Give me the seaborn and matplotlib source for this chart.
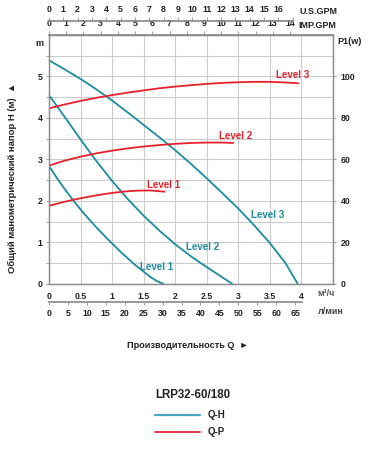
import numpy as np
import pandas as pd
import matplotlib
matplotlib.use("Agg")
import matplotlib.pyplot as plt
import seaborn as sns
from matplotlib.lines import Line2D

# ---------------- data ----------------
levels = ["Level 1", "Level 2", "Level 3"]

# Q-H curves (Q in m3/h, H in m)
qh1_q = [0, 0.125, 0.25, 0.375, 0.5, 0.625, 0.75, 0.875, 1.0, 1.125, 1.25, 1.375, 1.5, 1.6, 1.7, 1.76, 1.81]
qh1_h = [2.84, 2.55, 2.28, 2.03, 1.79, 1.57, 1.36, 1.16, 0.97, 0.78, 0.61, 0.44, 0.29, 0.17, 0.07, 0.03, 0.0]
qh2_q = [0, 0.25, 0.5, 0.75, 1.0, 1.25, 1.5, 1.75, 2.0, 2.25, 2.5, 2.7, 2.82, 2.9]
qh2_h = [4.55, 4.02, 3.48, 2.96, 2.48, 2.04, 1.64, 1.28, 0.95, 0.66, 0.40, 0.20, 0.08, 0.0]
qh3_q = [0, 0.25, 0.5, 0.75, 1.0, 1.25, 1.5, 1.75, 2.0, 2.25, 2.5, 2.75, 3.0, 3.25, 3.5, 3.75, 3.94]
qh3_h = [5.39, 5.17, 4.94, 4.69, 4.42, 4.13, 3.83, 3.53, 3.22, 2.89, 2.54, 2.18, 1.81, 1.41, 0.98, 0.49, 0.0]

# Q-P curves (Q in m3/h, P1 in W)
qp1_q = [0, 0.2, 0.4, 0.6, 0.8, 1.0, 1.2, 1.4, 1.6, 1.83]
qp1_p = [37.6, 39.2, 40.6, 41.8, 42.9, 43.8, 44.5, 44.9, 45.0, 44.4]
qp2_q = [0, 0.25, 0.5, 0.75, 1.0, 1.25, 1.5, 1.75, 2.0, 2.25, 2.5, 2.75, 2.92]
qp2_p = [57.0, 59.4, 61.3, 62.9, 64.2, 65.3, 66.2, 66.9, 67.5, 67.9, 68.1, 68.1, 67.9]
qp3_q = [0, 0.25, 0.5, 0.75, 1.0, 1.25, 1.5, 1.75, 2.0, 2.25, 2.5, 2.75, 3.0, 3.25, 3.5, 3.75, 3.95]
qp3_p = [84.6, 86.5, 88.2, 89.7, 91.0, 92.2, 93.3, 94.3, 95.1, 95.8, 96.4, 96.9, 97.2, 97.4, 97.4, 97.1, 96.7]

# axis ticks / labels
m3h_ticks = [0, 0.5, 1, 1.5, 2, 2.5, 3, 3.5, 4]
m3h_labels = ["0", "0.5", "1", "1.5", "2", "2.5", "3", "3.5", "4"]
lmin_ticks = list(range(0, 70, 5))
usgpm_ticks = list(range(0, 18))
usgpm_labels = [str(i) for i in range(0, 17)] + [""]
impgpm_ticks = list(range(0, 15))
h_ticks = [0, 1, 2, 3, 4, 5]
p_ticks = [0, 20, 40, 60, 80, 100]

title = "LRP32-60/180"
xlabel = "Производительность Q  \u25ba"
ylabel = "Общий манометрический напор H (м)  \u25b2"

# ---------------- style ----------------
sns.set_theme(style="white")
plt.rcParams["font.family"] = ["Liberation Sans", "DejaVu Sans"]
plt.rcParams["font.weight"] = "bold"

TEAL = "#1b8ca3"
TEAL_LEG = "#4aa7c4"
RED = "#e5222b"
GRID = "#cccccc"
SPINE = "#8c8c8c"
TXT = "#222222"
FS = 6.3

W, H = 367, 450
fig = plt.figure(figsize=(W / 100, H / 100), dpi=100)
L, R, T, B = 49, 333, 35, 283.7
ax = fig.add_axes([L / W, 1 - B / H, (R - L) / W, (B - T) / H])
ax2 = ax.twinx()

qh = pd.concat([
    pd.DataFrame({"Q": q, "H": h, "level": lv})
    for q, h, lv in zip([qh1_q, qh2_q, qh3_q], [qh1_h, qh2_h, qh3_h], levels)
])
qp = pd.concat([
    pd.DataFrame({"Q": q, "P": p, "level": lv})
    for q, p, lv in zip([qp1_q, qp2_q, qp3_q], [qp1_p, qp2_p, qp3_p], levels)
])

sns.lineplot(data=qh, x="Q", y="H", units="level", estimator=None, sort=False,
             color=TEAL, lw=1.3, ax=ax, legend=False)
sns.lineplot(data=qp, x="Q", y="P", units="level", estimator=None, sort=False,
             color=RED, lw=1.3, ax=ax2, legend=False)

ax.set_xlim(0, 4.5)
ax.set_ylim(0, 6)
ax2.set_ylim(0, 120)
ax.set_xlabel("")
ax.set_ylabel("")
ax2.set_ylabel("")

# grid
ax.set_xticks(m3h_ticks)
ax.set_xticklabels(m3h_labels)
ax.set_xticks([4.5], minor=True)
ax.set_yticks(h_ticks)
ax.set_yticks(np.arange(0.5, 6.01, 1.0), minor=True)
ax.grid(True, which="both", color=GRID, lw=0.8)
ax.set_axisbelow(True)
ax2.set_yticks(p_ticks)
ax2.grid(False)

for a in (ax, ax2):
    for s in a.spines.values():
        s.set_color(SPINE)
        s.set_linewidth(0.9)

ax.tick_params(axis="both", which="both", direction="out", length=2.5, width=0.6,
               color=SPINE, labelsize=FS, labelcolor=TXT, pad=2)
ax.tick_params(axis="x", pad=3.5)
ax.tick_params(axis="x", which="minor", length=0)
ax2.tick_params(axis="y", direction="out", length=2.5, width=0.6, color=SPINE,
                labelsize=FS, labelcolor=TXT, pad=3)
for lab in ax.get_xticklabels() + ax.get_yticklabels() + ax2.get_yticklabels():
    lab.set_fontweight("bold")

# top IMP.GPM axis (on the plot frame)
imp = ax.secondary_xaxis("top", functions=(lambda q: q * 3.666, lambda g: g / 3.666))
imp.set_xticks(impgpm_ticks)
imp.tick_params(direction="out", length=3, width=0.6, color=SPINE,
                labelsize=FS, labelcolor=TXT, pad=2)
imp.spines["top"].set_color(SPINE)

# top U.S.GPM axis
us_loc = (B - 20.7) / (B - T)
us = ax.secondary_xaxis(us_loc, functions=(lambda q: q * 4.403, lambda g: g / 4.403))
us.set_xticks(usgpm_ticks)
us.set_xticklabels(usgpm_labels)
us.tick_params(direction="out", length=3, width=0.6, color=SPINE,
               labelsize=FS, labelcolor=TXT, pad=2)
us.spines["top"].set_color(SPINE)
us.spines["top"].set_bounds(0, 17)

# bottom l/min axis
lm_loc = -(301.7 - B) / (B - T)
lm = ax.secondary_xaxis(lm_loc, functions=(lambda q: q * 16.667, lambda l: l / 16.667))
lm.set_xticks(lmin_ticks)
lm.tick_params(direction="out", length=2.5, width=0.6, color=SPINE,
               labelsize=FS, labelcolor=TXT, pad=3)
lm.spines["bottom"].set_color(SPINE)
lm.spines["bottom"].set_bounds(0, 66.7)

for a in (imp, us, lm):
    for lab in a.get_xticklabels():
        lab.set_fontweight("bold")

# level labels
lab_kw = dict(fontsize=7, fontweight="bold", ha="center", va="center")
ax.text(3.86, 5.03, "Level 3", color=RED, **lab_kw)
ax.text(2.96, 3.56, "Level 2", color=RED, **lab_kw)
ax.text(1.81, 2.37, "Level 1", color=RED, **lab_kw)
ax.text(3.47, 1.65, "Level 3", color=TEAL, **lab_kw)
ax.text(2.44, 0.89, "Level 2", color=TEAL, **lab_kw)
ax.text(1.70, 0.41, "Level 1", color=TEAL, **lab_kw)

# unit texts
def ft(px, py, s, **kw):
    fig.text(px / W, 1 - py / H, s, **kw)

unit_kw = dict(fontsize=6.5, fontweight="bold", color=TXT, va="center")
ft(300, 11, "U.S.GPM", ha="left", **unit_kw)
ft(298, 25, "IMP.GPM", ha="left", **unit_kw)
ft(337, 42, "P1(w)", ha="left", **unit_kw)
ft(39, 43, "m", ha="center", **unit_kw)
ft(317, 293, "м\u00b3/ч", ha="left", fontsize=6.5, fontweight="bold", color="#555555", va="center")
ft(318, 311, "л/мин", ha="left", fontsize=6.5, fontweight="bold", color="#444444", va="center")

ft(188, 345, xlabel, ha="center", va="center", fontsize=6.6, fontweight="bold", color=TXT)
ft(12, 178, ylabel, ha="center", va="center", rotation=90, fontsize=6.8,
   fontweight="bold", color=TXT)
ft(192.5, 395, title, ha="center", va="center", fontsize=8.3, fontweight="bold", color=TXT)

handles = [Line2D([], [], color=TEAL_LEG, lw=1.6), Line2D([], [], color=RED, lw=1.3)]
leg = fig.legend(handles, ["Q-H", "Q-P"], loc="upper left",
                 bbox_to_anchor=(155 / W, 1 - 410 / H), frameon=False,
                 prop=dict(size=7, weight="bold"), handlelength=4.6,
                 handletextpad=0.8, labelspacing=0.75, borderpad=0, borderaxespad=0)
for t in leg.get_texts():
    t.set_color(TXT)

fig.savefig("out.png", dpi=100)
